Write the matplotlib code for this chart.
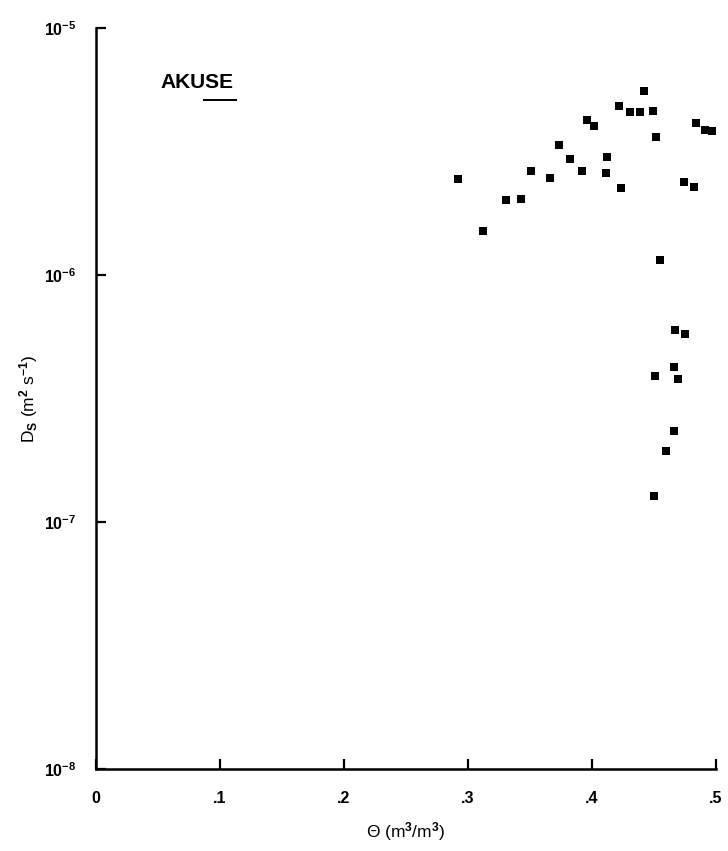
import numpy as np
import matplotlib.pyplot as plt
from matplotlib.ticker import FixedLocator, NullLocator

plt.rcParams['font.family'] = ['Liberation Sans', 'DejaVu Sans']
plt.rcParams['font.weight'] = 'bold'
plt.rcParams['mathtext.fontset'] = 'custom'
plt.rcParams['mathtext.rm'] = 'Liberation Sans:bold'
plt.rcParams['mathtext.it'] = 'Liberation Sans:bold'
plt.rcParams['mathtext.bf'] = 'Liberation Sans:bold'

# volumetric water content (m3/m3) and diffusivity Ds (m2/s)
theta = [0.292, 0.312, 0.331, 0.343, 0.351, 0.366, 0.373, 0.382, 0.392,
         0.396, 0.402, 0.412, 0.411, 0.423, 0.422, 0.431, 0.439, 0.442,
         0.449, 0.452, 0.484, 0.491, 0.497, 0.474, 0.482, 0.455,
         0.467, 0.475, 0.466, 0.451, 0.469, 0.466, 0.460, 0.450]
ds = [2.45e-6, 1.51e-6, 2.02e-6, 2.04e-6, 2.64e-6, 2.47e-6, 3.36e-6, 2.94e-6, 2.64e-6,
      4.24e-6, 4.01e-6, 3.00e-6, 2.58e-6, 2.26e-6, 4.83e-6, 4.56e-6, 4.58e-6, 5.54e-6,
      4.63e-6, 3.61e-6, 4.11e-6, 3.86e-6, 3.84e-6, 2.38e-6, 2.27e-6, 1.15e-6,
      5.99e-7, 5.77e-7, 4.25e-7, 3.91e-7, 3.78e-7, 2.34e-7, 1.93e-7, 1.27e-7]

xticks = [0, 0.1, 0.2, 0.3, 0.4, 0.5]
xlabels = ['0', '.1', '.2', '.3', '.4', '.5']
yticks = [1e-8, 1e-7, 1e-6, 1e-5]
ylabels = ['10$^{-8}$', '10$^{-7}$', '10$^{-6}$', '10$^{-5}$']

fig = plt.figure(figsize=(7.28, 8.51), dpi=100)
ax = fig.add_axes([0.132, 0.0964, 0.8515, 0.8707])

ax.plot(theta, ds, 's', color='black', markersize=6, markeredgewidth=0)

ax.set_yscale('log')
ax.set_xlim(0, 0.5)
ax.set_ylim(1e-8, 1e-5)

ax.xaxis.set_major_locator(FixedLocator(xticks))
ax.set_xticklabels(xlabels)
ax.yaxis.set_major_locator(FixedLocator(yticks))
ax.set_yticklabels(ylabels)
ax.yaxis.set_minor_locator(NullLocator())

for side in ['top', 'right']:
    ax.spines[side].set_visible(False)
for side in ['left', 'bottom']:
    ax.spines[side].set_linewidth(1.8)

ax.tick_params(axis='both', direction='in', length=7, width=1.6, labelsize=11.5)
ax.tick_params(axis='x', pad=16)
ax.tick_params(axis='y', pad=14)

ax.set_xlabel('Θ (m$^3$/m$^3$)', fontsize=12.5, labelpad=10)
ax.set_ylabel('D$_{\\rm S}$ (m$^2$ s$^{-1}$)', fontsize=12.5, labelpad=3)

# site name, with the short underline under the last letters
site = ax.text(0.052, 6.0e-6, 'AKUSE', fontsize=15, va='center', ha='left')
fig.canvas.draw()
bb = site.get_window_extent().transformed(ax.transAxes.inverted())
w = bb.x1 - bb.x0
ax.plot([bb.x0 + 0.6 * w, bb.x1 + 0.03 * w], [bb.y0 - 0.01, bb.y0 - 0.01],
        color='black', linewidth=1.4, transform=ax.transAxes, clip_on=False)

plt.savefig('out.png', dpi=100)
